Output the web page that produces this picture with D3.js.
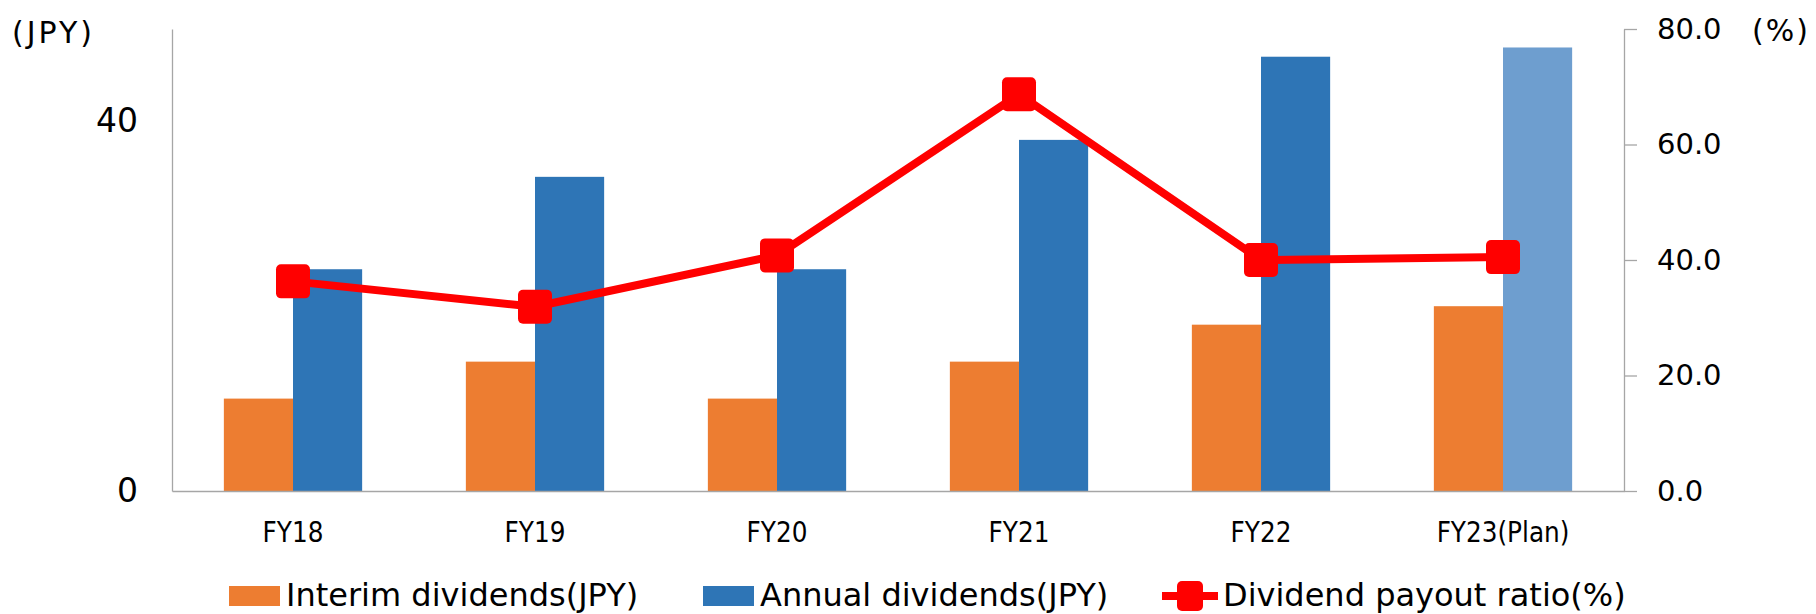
<!DOCTYPE html>
<html>
<head>
<meta charset="utf-8">
<script src="https://cdn.jsdelivr.net/npm/d3@7"></script>
<style>
  html, body { margin: 0; padding: 0; background: #fff; }
  svg { display: block; }
  text { font-family: "DejaVu Sans", Verdana, sans-serif; fill: #000; }
  .cond { font-family: "DejaVu Sans Condensed", "DejaVu Sans", sans-serif; font-stretch: condensed; }
</style>
</head>
<body>
<svg id="chart" width="1816" height="614"></svg>
<script>
// Fiscal years on the x axis
const categories = ["FY18", "FY19", "FY20", "FY21", "FY22", "FY23(Plan)"];
// Dividends per share (JPY)
const interimDividends = [10, 14, 10, 14, 18, 20];
const annualDividends = [24, 34, 24, 38, 47, 48];
// Payout ratio (%)
const payoutRatio = [36.3, 31.9, 40.8, 68.7, 40.0, 40.5];
// Axis ticks
const leftTicks = [0, 40];
const rightTicks = [0, 20, 40, 60, 80];
const seriesNames = ["Interim dividends(JPY)", "Annual dividends(JPY)", "Dividend payout ratio(%)"];

const svg = d3.select("#chart");

const plot = { left: 172, right: 1624, top: 29, bottom: 491 };
const axisColor = "#a6a6a6";
const orange = "#ed7d31";
const blue = "#2e75b6";
const blueLight = "#6e9ecf";
const red = "#ff0000";

const x = d3.scaleBand().domain(categories).range([plot.left, plot.right]).paddingInner(0).paddingOuter(0);
const yL = d3.scaleLinear().domain([0, 50]).range([plot.bottom, plot.top]);
const yR = d3.scaleLinear().domain([0, 80]).range([plot.bottom, plot.top]);

// Two bars per category with a 150% gap
const barW = x.bandwidth() / 3.5;
const cx = d => x(d) + x.bandwidth() / 2;

// Bars
const gBars = svg.append("g");
gBars.selectAll("rect.interim")
  .data(categories)
  .join("rect")
  .attr("class", "interim")
  .attr("x", d => cx(d) - barW)
  .attr("width", barW)
  .attr("y", (d, i) => yL(interimDividends[i]))
  .attr("height", (d, i) => yL(0) - yL(interimDividends[i]))
  .attr("fill", orange);

gBars.selectAll("rect.annual")
  .data(categories)
  .join("rect")
  .attr("class", "annual")
  .attr("x", d => cx(d))
  .attr("width", barW)
  .attr("y", (d, i) => yL(annualDividends[i]))
  .attr("height", (d, i) => yL(0) - yL(annualDividends[i]))
  .attr("fill", (d, i) => i === categories.length - 1 ? blueLight : blue);

// Left axis: line only, labels to the left
const leftAxis = d3.axisLeft(yL).tickValues(leftTicks).tickSize(0).tickPadding(34).tickFormat(d3.format("d"));
const gL = svg.append("g").attr("transform", `translate(${plot.left},0)`).call(leftAxis);
gL.select(".domain").attr("stroke", axisColor).attr("stroke-width", 1.3);
gL.selectAll("text").style("font-size", "33px");

// Right axis with outward ticks
const rightAxis = d3.axisRight(yR).tickValues(rightTicks).tickSize(13).tickSizeOuter(0).tickPadding(20).tickFormat(d3.format(".1f"));
const gR = svg.append("g").attr("transform", `translate(${plot.right},0)`).call(rightAxis);
gR.select(".domain").attr("stroke", axisColor).attr("stroke-width", 1.3);
gR.selectAll(".tick line").attr("stroke", axisColor).attr("stroke-width", 1.3);
gR.selectAll("text").style("font-size", "29px");

// Bottom axis
const bottomAxis = d3.axisBottom(x).tickSize(0).tickSizeOuter(0).tickPadding(31);
const gB = svg.append("g").attr("transform", `translate(0,${plot.bottom})`).call(bottomAxis);
gB.select(".domain").attr("stroke", axisColor).attr("stroke-width", 1.3);
gB.selectAll("text").attr("class", "cond").style("font-size", "27.5px");

// Unit labels
svg.append("text").attr("x", 12).attr("y", 43).style("font-size", "30px").style("letter-spacing", "3px").text("(JPY)");
svg.append("text").attr("x", 1752).attr("y", 41).style("font-size", "30px").style("letter-spacing", "2px").text("(%)");

// Payout ratio line
const line = d3.line().x(d => cx(d.c)).y(d => yR(d.v));
const pts = categories.map((c, i) => ({ c, v: payoutRatio[i] }));
svg.append("path")
  .datum(pts)
  .attr("d", line)
  .attr("fill", "none")
  .attr("stroke", red)
  .attr("stroke-width", 8)
  .attr("stroke-linejoin", "round");

const mk = 34;
svg.append("g").selectAll("rect")
  .data(pts)
  .join("rect")
  .attr("x", d => cx(d.c) - mk / 2)
  .attr("y", d => yR(d.v) - mk / 2)
  .attr("width", mk)
  .attr("height", mk)
  .attr("rx", 5)
  .attr("fill", red);

// Legend
const lg = svg.append("g");
const legendY = 596;
const legendItems = [
  { x: 229, kind: "bar", color: orange, label: seriesNames[0] },
  { x: 703, kind: "bar", color: blue, label: seriesNames[1] },
  { x: 1162, kind: "line", color: red, label: seriesNames[2] }
];
legendItems.forEach(it => {
  if (it.kind === "bar") {
    lg.append("rect").attr("x", it.x).attr("y", legendY - 10).attr("width", 51).attr("height", 20).attr("fill", it.color);
  } else {
    lg.append("line").attr("x1", it.x).attr("x2", it.x + 56).attr("y1", legendY).attr("y2", legendY)
      .attr("stroke", it.color).attr("stroke-width", 8);
    lg.append("rect").attr("x", it.x + 28 - 13).attr("y", legendY - 15).attr("width", 26).attr("height", 30)
      .attr("rx", 5).attr("fill", it.color);
  }
  lg.append("text")
    .attr("x", it.x + (it.kind === "bar" ? 57 : 61))
    .attr("y", legendY + 10)
    .style("font-size", "32px")
    .text(it.label);
});
</script>
</body>
</html>
